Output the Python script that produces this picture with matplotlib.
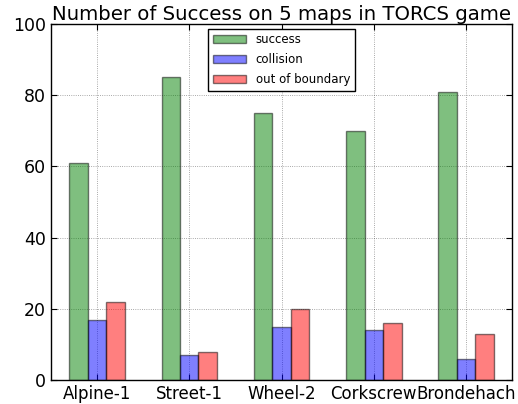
import matplotlib
matplotlib.use('Agg')
import matplotlib.pyplot as plt
import numpy as np

maps = ['Alpine-1', 'Street-1', 'Wheel-2', 'Corkscrew', 'Brondehach']
success = [61, 85, 75, 70, 81]
collision = [17, 7, 15, 14, 6]
out_of_boundary = [22, 8, 20, 16, 13]

index = np.arange(len(maps))
width = 0.2

fig = plt.figure(figsize=(5.18, 4.04), dpi=100)
ax = fig.add_axes([0.098, 0.059, 0.891, 0.882])

ax.bar(index, success, width, align='edge', color='g', alpha=0.5,
       edgecolor='k', linewidth=1, label='success')
ax.bar(index + width, collision, width, align='edge', color='b', alpha=0.5,
       edgecolor='k', linewidth=1, label='collision')
ax.bar(index + 2 * width, out_of_boundary, width, align='edge', color='r', alpha=0.5,
       edgecolor='k', linewidth=1, label='out of boundary')

ax.set_xlim(-0.2, 4.8)
ax.set_ylim(0, 100)
ax.set_xticks(index + 1.5 * width)
ax.set_xticklabels(maps, fontsize=12)
ax.set_yticks(np.arange(0, 101, 20))
ax.tick_params(axis='y', labelsize=12.5)
ax.tick_params(direction='in', top=True, right=True, length=4)
ax.grid(True, color='k', linestyle=':', linewidth=0.6, alpha=0.45)
ax.set_axisbelow(True)
for s in ax.spines.values():
    s.set_linewidth(1)

ax.set_title('Number of Success on 5 maps in TORCS game', fontsize=14.2, pad=3)
leg = ax.legend(loc='upper center', fontsize=8.5, fancybox=False, framealpha=1,
                edgecolor='k', handlelength=2.8, borderaxespad=0.4, labelspacing=0.6)
leg.get_frame().set_linewidth(1)

fig.savefig('out.png', dpi=100)
